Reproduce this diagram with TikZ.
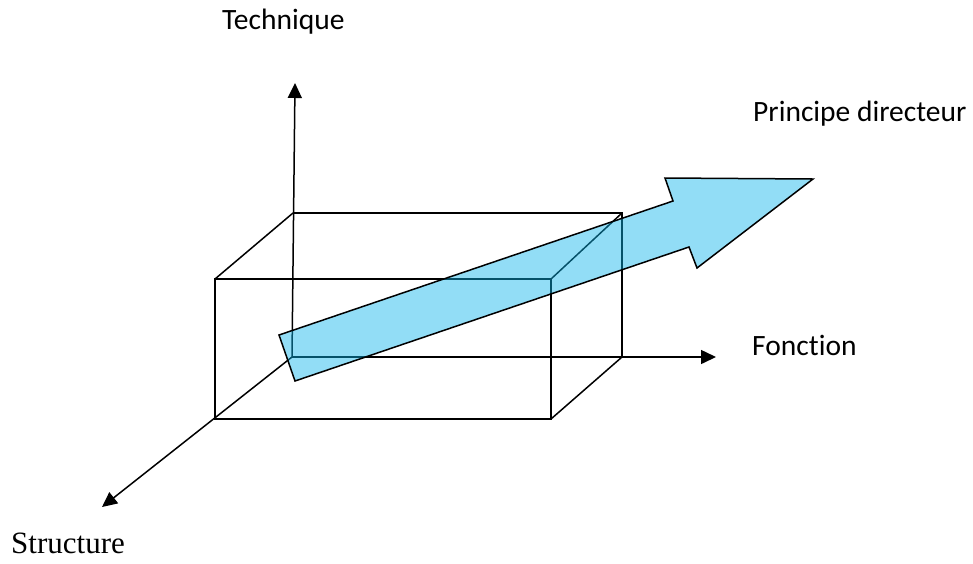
\documentclass[tikz,border=0pt]{standalone}
\usepackage{fontspec}
\setmainfont{Liberation Serif}
\newfontfamily\calibri[Ligatures={NoCommon}]{Carlito}
\usetikzlibrary{arrows.meta,positioning}
\definecolor{flechebleu}{RGB}{13,180,235}

\begin{document}
\begin{tikzpicture}[
        x=1pt, y=-1pt,
        edge/.style={line width=1.5pt},
        axis/.style={line width=1.5pt, -{Triangle[length=15pt,width=14pt]}},
        axislabel/.style={anchor=base west, inner sep=0pt, font=\calibri\fontsize{29.5}{35}\selectfont},
        fleche/.style={line width=1.5pt, draw=black, fill=flechebleu, fill opacity=0.45}
    ]
    \useasboundingbox (0,0) rectangle (973,563);

    % --- Sommets du parallelepipede ---
    \coordinate (FTL) at (215,279);
    \coordinate (FTR) at (551,279);
    \coordinate (FBR) at (551,419);
    \coordinate (FBL) at (215,419);
    \coordinate (BTL) at (293,213);
    \coordinate (BTR) at (622,213);
    \coordinate (BBR) at (622,357);
    \coordinate (O) at (292,357);

    % --- Extremites des axes ---
    \coordinate (tech) at (295,83);
    \coordinate (fonc) at (716,357);
    \coordinate (struc) at (102,507);

    % --- Parallelepipede ---
    \draw[edge] (FTL) -- (FTR) -- (FBR) -- (FBL) -- cycle;
    \draw[edge] (BTL) -- (BTR) -- (BBR);
    \draw[edge] (FTL) -- (BTL);
    \draw[edge] (FTR) -- (BTR);
    \draw[edge] (FBR) -- (BBR);

    % --- Axes ---
    \draw[axis] (O) -- (tech);
    \draw[axis] (O) -- (fonc);
    \draw[axis] (O) -- (struc);

    % --- Fleche : principe directeur ---
    \draw[fleche] (279,335) -- (673,201) -- (665,178) -- (813,179)
        -- (697,268) -- (689,247) -- (295,381) -- cycle;

    % --- Etiquettes ---
    \node (technique) [axislabel] at (222,29) {Technique};
    \node (principe) [axislabel] at (753,121) {Principe directeur};
    \node (fonction) [axislabel] at (752,355) {Fonction};
    \node (structure) [anchor=base west, inner sep=0pt, font=\fontsize{31}{37}\selectfont] at (11,553) {Structure};

\end{tikzpicture}
\end{document}
